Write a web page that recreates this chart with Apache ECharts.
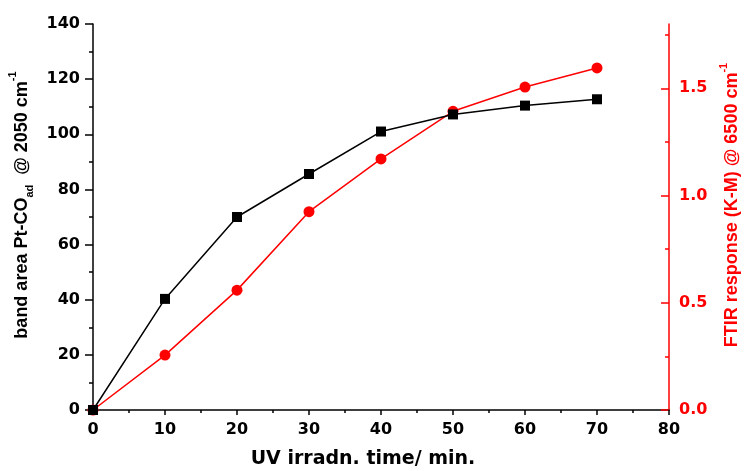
<!DOCTYPE html>
<html><head><meta charset="utf-8">
<script src="https://cdn.jsdelivr.net/npm/echarts@6/dist/echarts.min.js"></script>
<style>html,body{margin:0;padding:0;background:#fff}#c{width:744px;height:471px}</style>
</head><body><div id="c"></div>
<script>
const timeMin = [0, 10, 20, 30, 40, 50, 60, 70];
const bandArea = [0, 40.3, 70.0, 85.6, 101.0, 107.2, 110.4, 112.7];
const ftirResponse = [0, 0.256, 0.559, 0.925, 1.171, 1.393, 1.506, 1.595];
const rightMajor = [0, 0.5, 1.0, 1.5];
const rightMinor = [0.25, 0.75, 1.25, 1.75];

const FONT = 'DejaVu Sans';
const TFONT = 'Liberation Sans';
const chart = echarts.init(document.getElementById('c'), null, {renderer: 'canvas'});
function richFor(color, size) {
  return {
    n: {fontFamily: TFONT, fontWeight: 'bold', fontSize: size, color: color, lineHeight: 28, verticalAlign: 'middle'},
    sub: {fontFamily: TFONT, fontWeight: 'bold', fontSize: 11, color: color, lineHeight: 28, verticalAlign: 'bottom'},
    sup: {fontFamily: TFONT, fontWeight: 'bold', fontSize: 11, color: color, lineHeight: 28, verticalAlign: 'top'}
  };
}
chart.setOption({
  animation: false,
  backgroundColor: '#fff',
  grid: {left: 93, right: 75, top: 24, bottom: 61, containLabel: false, outerBoundsMode: 'none'},
  xAxis: {
    type: 'value', min: 0, max: 80, interval: 10,
    name: 'UV irradn. time/ min.', nameLocation: 'middle', nameGap: 40,
    nameTextStyle: {fontFamily: FONT, fontWeight: 'bold', fontSize: 19, color: '#000', padding: [0, 36, 0, 0]},
    axisLine: {show: true, lineStyle: {color: '#000', width: 1.5}},
    axisTick: {show: true, inside: false, length: 5, lineStyle: {color: '#000', width: 1.5}},
    minorTick: {show: true, splitNumber: 2, length: 3, lineStyle: {color: '#000', width: 1.5}},
    axisLabel: {fontFamily: FONT, fontWeight: 'bold', fontSize: 16, color: '#000', margin: 12},
    splitLine: {show: false}
  },
  yAxis: [{
    type: 'value', min: 0, max: 140, interval: 20, position: 'left',
    name: '{n|band area Pt-CO}{sub|ad}{n|  @ 2050 cm}{sup|-1}',
    nameLocation: 'middle', nameGap: 53, nameRotate: 90,
    nameTextStyle: {rich: richFor('#000', 18), padding: [0, 0, 0, 24]},
    axisLine: {show: true, lineStyle: {color: '#000', width: 1.5}},
    axisTick: {show: true, inside: false, length: 8, lineStyle: {color: '#000', width: 1.5}},
    minorTick: {show: true, splitNumber: 2, length: 4, lineStyle: {color: '#000', width: 1.5}},
    axisLabel: {fontFamily: FONT, fontWeight: 'bold', fontSize: 16, color: '#000', margin: 13},
    splitLine: {show: false}
  }, {
    type: 'value', min: 0, max: 1.8, position: 'right',
    name: '{n|FTIR response (K-M) @ 6500 cm}{sup|-1}',
    nameLocation: 'middle', nameGap: 45, nameRotate: 90,
    nameTextStyle: {rich: richFor('#ff0000', 18), padding: [0, 0, 0, 24]},
    axisLine: {show: true, lineStyle: {color: '#ff0000', width: 1.5}},
    axisTick: {show: true, inside: true, length: 8, customValues: rightMajor, lineStyle: {color: '#ff0000', width: 1.5}},
    axisLabel: {fontFamily: FONT, fontWeight: 'bold', fontSize: 16, color: '#ff0000', margin: 10,
      customValues: rightMajor, formatter: v => v.toFixed(1)},
    splitLine: {show: false}
  }, {
    type: 'value', min: 0, max: 1.8, position: 'right',
    axisLine: {show: false},
    axisTick: {show: true, inside: true, length: 4, customValues: rightMinor, lineStyle: {color: '#ff0000', width: 1.5}},
    axisLabel: {show: false},
    splitLine: {show: false}
  }],
  series: [{
    name: 'FTIR', type: 'line', yAxisIndex: 1,
    data: timeMin.map((t, i) => [t, ftirResponse[i]]),
    symbol: 'circle', symbolSize: 11, clip: true,
    lineStyle: {color: '#ff0000', width: 1.5},
    itemStyle: {color: '#ff0000'}, z: 2
  }, {
    name: 'band', type: 'line', yAxisIndex: 0,
    data: timeMin.map((t, i) => [t, bandArea[i]]),
    symbol: 'rect', symbolSize: 10, clip: true,
    lineStyle: {color: '#000', width: 1.5},
    itemStyle: {color: '#000'}, z: 3
  }]
});
</script></body></html>
